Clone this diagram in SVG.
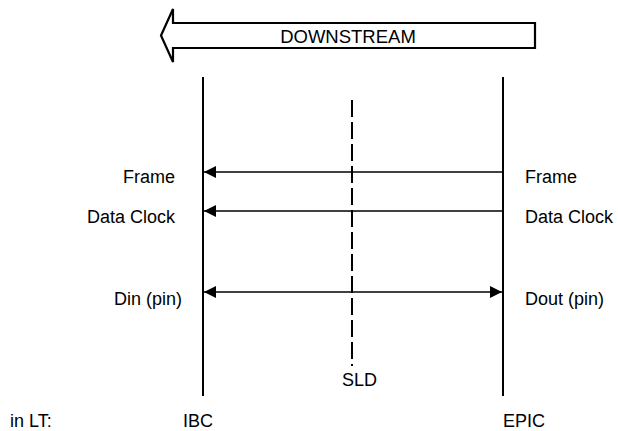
<svg xmlns="http://www.w3.org/2000/svg" width="618" height="431" viewBox="0 0 618 431">
<defs>
<style>
text{font-family:"Liberation Sans",Arial,sans-serif;font-size:18px;fill:#000}
.ln{stroke:#000;stroke-width:2;fill:none}
.ar{stroke:#000;stroke-width:1.6;fill:none}
</style>
<marker id="ah" viewBox="0 0 12 12" refX="12" refY="6" markerWidth="12" markerHeight="12" markerUnits="userSpaceOnUse" orient="auto-start-reverse">
<path d="M0,0 L12,6 L0,12 Z" fill="#000"/>
</marker>
</defs>
<rect width="618" height="431" fill="#fff"/>
<g id="downstream">
<path d="M535,23 L173,23 L173,9 L161,35.5 L173,62 L173,48 L535,48 Z" fill="#fff" stroke="#000" stroke-width="2.2" stroke-linejoin="miter"/>
<text x="348" y="43" text-anchor="middle" style="font-size:18.5px">DOWNSTREAM</text>
</g>
<g id="ibc">
<line class="ln" x1="203" y1="77" x2="203" y2="396"/>
<text x="198" y="427" text-anchor="middle">IBC</text>
</g>
<g id="epic">
<line class="ln" x1="503" y1="77" x2="503" y2="396"/>
<text x="503" y="427">EPIC</text>
</g>
<g id="sld">
<line x1="352" y1="100" x2="352" y2="366" stroke="#000" stroke-width="2" stroke-dasharray="17,5"/>
<text x="342" y="386">SLD</text>
</g>
<g id="inlt">
<text x="10" y="427">in LT:</text>
</g>
<g id="labels">
<text x="175" y="183" text-anchor="end">Frame</text>
<text x="175" y="223" text-anchor="end">Data Clock</text>
<text x="182" y="305" text-anchor="end">Din (pin)</text>
<text x="525" y="183">Frame</text>
<text x="525" y="223">Data Clock</text>
<text x="525" y="305">Dout (pin)</text>
</g>
<g id="connectors">
<line class="ar" x1="502" y1="172" x2="204" y2="172" marker-end="url(#ah)"/>
<line class="ar" x1="502" y1="211" x2="204" y2="211" marker-end="url(#ah)"/>
<line class="ar" x1="204" y1="292" x2="502" y2="292" marker-start="url(#ah)" marker-end="url(#ah)"/>
</g>
</svg>
